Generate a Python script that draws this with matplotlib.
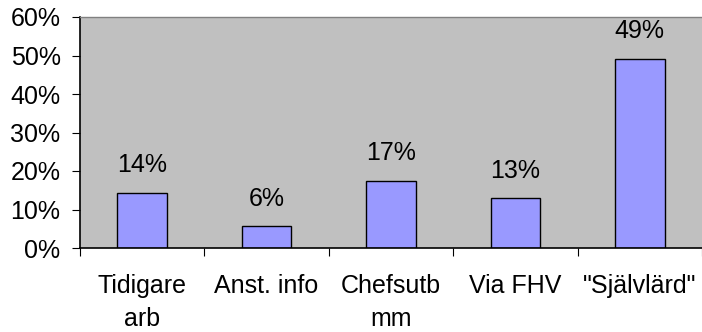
import matplotlib
matplotlib.use("Agg")
import matplotlib.pyplot as plt
from matplotlib.ticker import MultipleLocator, FuncFormatter

categories = ["Tidigare\narb", "Anst. info", "Chefsutb\nmm", "Via FHV", "\"Självlärd\""]
values = [14.4, 5.6, 17.5, 12.9, 49.2]
value_labels = ["14%", "6%", "17%", "13%", "49%"]

plt.rcParams['font.family'] = ['Liberation Sans', 'DejaVu Sans']
fig = plt.figure(figsize=(7.02, 3.32), dpi=100)
ax = fig.add_axes([80/702, 84/332, 622/702, 231/332])
ax.set_facecolor('#C0C0C0')

FS = 18
x = list(range(len(categories)))
bars = ax.bar(x, values, width=0.4, color='#9999FF', edgecolor='black', linewidth=1)
for xi, v, lab in zip(x, values, value_labels):
    ax.annotate(lab, (xi, v), xytext=(0, 11), textcoords='offset points',
                ha='center', va='bottom', fontsize=FS)

ax.set_xlim(-0.5, len(categories) - 0.5)
ax.set_ylim(0, 60)
ax.yaxis.set_major_locator(MultipleLocator(10))
ax.yaxis.set_major_formatter(FuncFormatter(lambda v, p: f"{int(v)}%"))
ax.set_xticks([i - 0.5 for i in range(len(categories) + 1)])
ax.set_xticklabels([])
ax.set_xticks(x, minor=True)
ax.set_xticklabels(categories, minor=True, fontsize=FS, linespacing=1.45)
ax.tick_params(axis='x', which='minor', length=0, pad=19)
ax.tick_params(axis='x', which='major', length=6, direction='out', color='black')
ax.tick_params(axis='y', length=6, direction='out', labelsize=FS, pad=8)

for s in ['top', 'right']:
    ax.spines[s].set_color('#808080')
    ax.spines[s].set_linewidth(1)
ax.spines['right'].set_visible(False)
for s in ['left', 'bottom']:
    ax.spines[s].set_color('black')
    ax.spines[s].set_linewidth(1.2)

fig.savefig('out.png', dpi=100)
